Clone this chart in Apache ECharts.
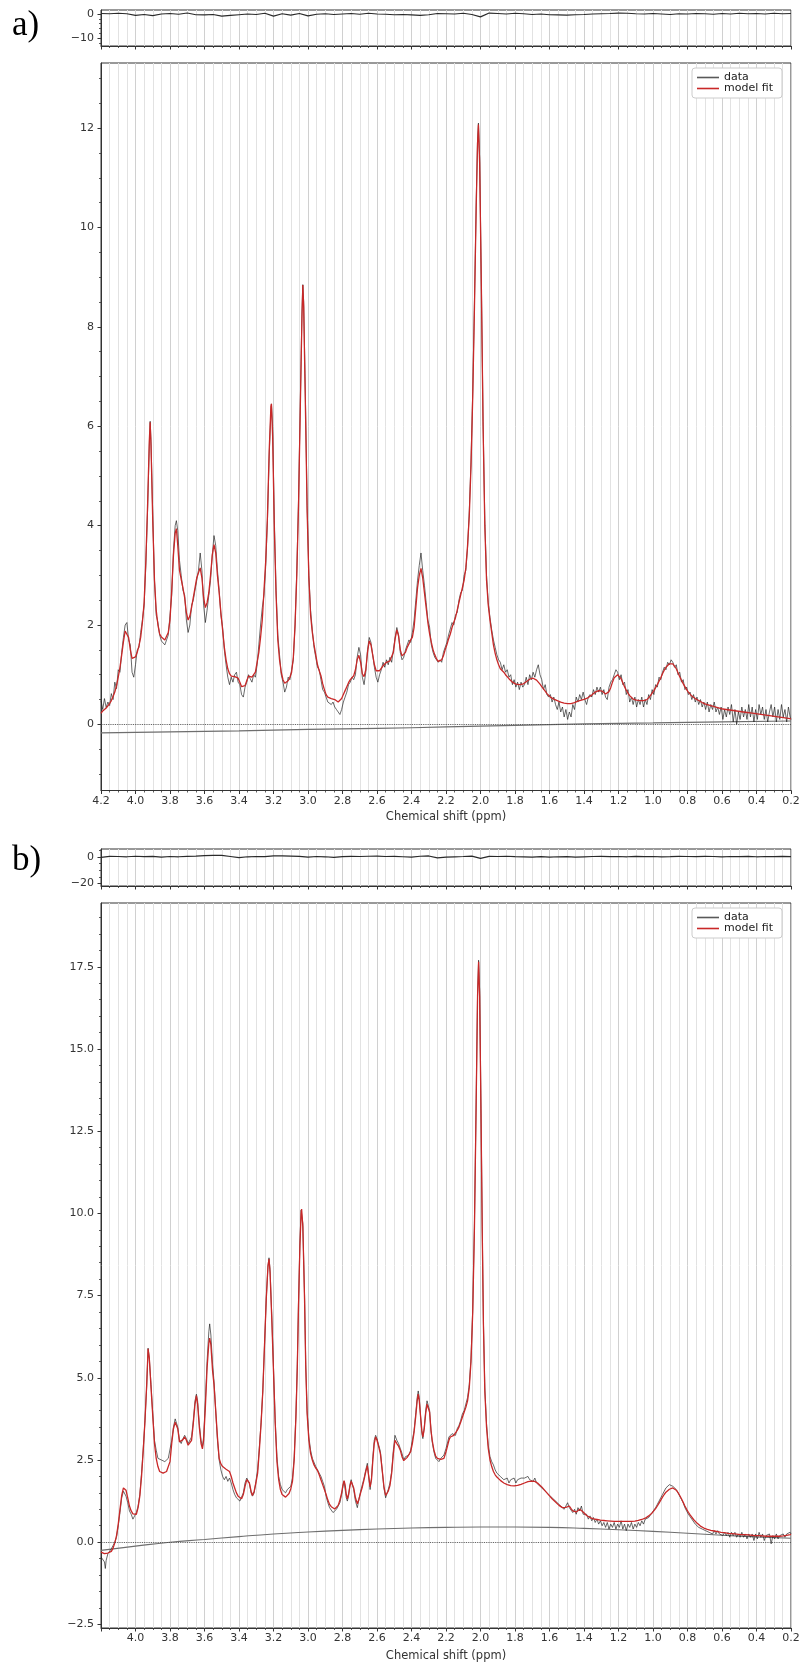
<!DOCTYPE html>
<html><head><meta charset="utf-8">
<script src="https://cdn.jsdelivr.net/npm/echarts@6/dist/echarts.min.js"></script>
<style>html,body{margin:0;padding:0;background:#fff}#c{width:803px;height:1667px}</style>
</head><body><div id="c"></div>
<script>
// ---------------- Panel a) ----------------
const ppmA = [
4.200,4.190,4.180,4.170,4.160,4.150,4.140,4.130,4.120,4.110,
4.100,4.090,4.080,4.070,4.060,4.050,4.040,4.030,4.020,4.010,
4.000,3.990,3.980,3.970,3.960,3.950,3.940,3.930,3.920,3.915,
3.910,3.900,3.890,3.880,3.870,3.860,3.850,3.840,3.830,3.820,
3.810,3.800,3.790,3.780,3.770,3.763,3.755,3.745,3.735,3.725,
3.715,3.705,3.695,3.685,3.675,3.665,3.655,3.645,3.635,3.625,
3.615,3.605,3.595,3.585,3.575,3.565,3.555,3.545,3.535,3.525,
3.515,3.505,3.495,3.485,3.475,3.465,3.455,3.445,3.435,3.425,
3.415,3.405,3.395,3.385,3.375,3.365,3.355,3.345,3.335,3.325,
3.315,3.305,3.295,3.285,3.275,3.265,3.255,3.245,3.235,3.225,
3.215,3.212,3.205,3.195,3.185,3.175,3.165,3.155,3.145,3.135,
3.125,3.115,3.105,3.095,3.085,3.075,3.065,3.055,3.045,3.035,
3.030,3.025,3.015,3.005,2.995,2.985,2.975,2.965,2.955,2.945,
2.935,2.925,2.915,2.905,2.895,2.885,2.875,2.865,2.855,2.845,
2.835,2.825,2.815,2.805,2.795,2.785,2.775,2.765,2.755,2.745,
2.735,2.725,2.715,2.705,2.695,2.685,2.675,2.665,2.655,2.645,
2.635,2.625,2.615,2.605,2.595,2.585,2.575,2.565,2.555,2.545,
2.535,2.525,2.515,2.505,2.495,2.485,2.475,2.465,2.455,2.445,
2.435,2.425,2.415,2.405,2.395,2.385,2.375,2.365,2.355,2.345,
2.335,2.325,2.315,2.305,2.295,2.285,2.275,2.265,2.255,2.245,
2.235,2.225,2.215,2.205,2.195,2.185,2.175,2.165,2.155,2.145,
2.135,2.125,2.115,2.105,2.095,2.085,2.075,2.065,2.055,2.045,
2.035,2.025,2.017,2.012,2.005,1.995,1.985,1.975,1.965,1.955,
1.945,1.935,1.925,1.915,1.905,1.895,1.885,1.875,1.865,1.855,
1.845,1.835,1.825,1.815,1.805,1.795,1.785,1.775,1.765,1.755,
1.745,1.735,1.725,1.715,1.705,1.695,1.685,1.675,1.665,1.655,
1.645,1.635,1.625,1.615,1.605,1.595,1.585,1.575,1.565,1.555,
1.545,1.535,1.525,1.515,1.505,1.495,1.485,1.475,1.465,1.455,
1.445,1.435,1.425,1.415,1.405,1.395,1.385,1.375,1.365,1.355,
1.345,1.335,1.325,1.315,1.305,1.295,1.285,1.275,1.265,1.255,
1.245,1.235,1.225,1.215,1.205,1.195,1.185,1.175,1.165,1.155,
1.145,1.135,1.125,1.115,1.105,1.095,1.085,1.075,1.065,1.055,
1.045,1.035,1.025,1.015,1.005,0.995,0.985,0.975,0.965,0.955,
0.945,0.935,0.925,0.915,0.905,0.895,0.885,0.875,0.865,0.855,
0.845,0.835,0.825,0.815,0.805,0.795,0.785,0.775,0.765,0.755,
0.745,0.735,0.725,0.715,0.705,0.695,0.685,0.675,0.665,0.655,
0.645,0.635,0.625,0.615,0.605,0.595,0.585,0.575,0.565,0.555,
0.545,0.535,0.525,0.515,0.505,0.495,0.485,0.475,0.465,0.455,
0.445,0.435,0.425,0.415,0.405,0.395,0.385,0.375,0.365,0.355,
0.345,0.335,0.325,0.315,0.305,0.295,0.285,0.275,0.265,0.255,
0.245,0.235,0.225,0.215,0.205,0.200];
const fitA = [
0.22,0.27,0.30,0.33,0.37,0.42,0.48,0.56,0.65,0.78,
0.95,1.15,1.40,1.66,1.88,1.92,1.75,1.50,1.33,1.29,
1.36,1.45,1.58,1.75,2.05,2.45,3.30,4.40,5.70,6.08,
5.60,4.10,2.90,2.30,2.00,1.82,1.76,1.72,1.70,1.72,
1.85,2.10,2.70,3.40,3.85,3.94,3.60,3.10,2.92,2.75,
2.55,2.25,2.10,2.18,2.35,2.55,2.75,2.95,3.05,3.15,
2.95,2.55,2.35,2.45,2.65,3.00,3.40,3.62,3.45,3.00,
2.65,2.25,1.90,1.55,1.30,1.12,1.02,0.97,0.95,0.96,
0.98,0.93,0.85,0.76,0.72,0.78,0.88,0.97,0.98,0.95,
0.93,1.05,1.25,1.45,1.75,2.10,2.70,3.30,4.20,5.50,
6.40,6.45,5.80,3.90,2.60,1.70,1.30,1.05,0.90,0.83,
0.82,0.88,0.95,1.05,1.35,2.00,3.00,4.40,6.30,8.20,
8.84,8.40,6.40,4.30,2.95,2.20,1.85,1.60,1.40,1.20,
1.08,0.98,0.82,0.70,0.60,0.55,0.52,0.52,0.52,0.50,
0.48,0.45,0.45,0.52,0.60,0.68,0.76,0.84,0.90,0.94,
0.98,1.10,1.30,1.39,1.25,1.02,0.96,1.10,1.45,1.68,
1.60,1.40,1.20,1.08,1.04,1.08,1.12,1.18,1.22,1.25,
1.26,1.28,1.32,1.45,1.72,1.90,1.78,1.50,1.38,1.38,
1.45,1.55,1.62,1.70,1.75,1.95,2.35,2.75,3.00,3.14,
2.95,2.65,2.35,2.05,1.82,1.65,1.50,1.40,1.32,1.27,
1.26,1.30,1.38,1.50,1.60,1.72,1.82,1.95,2.05,2.15,
2.30,2.45,2.60,2.75,2.90,3.15,3.60,4.20,5.20,6.60,
8.40,10.40,11.70,12.07,11.30,8.80,6.00,4.00,2.90,2.40,
2.10,1.85,1.60,1.43,1.30,1.20,1.12,1.08,1.05,1.00,
0.96,0.92,0.88,0.85,0.83,0.81,0.80,0.80,0.80,0.81,
0.83,0.86,0.88,0.91,0.92,0.93,0.91,0.89,0.85,0.81,
0.76,0.72,0.67,0.62,0.58,0.55,0.53,0.51,0.49,0.48,
0.46,0.45,0.44,0.43,0.42,0.42,0.42,0.42,0.43,0.44,
0.45,0.47,0.48,0.49,0.50,0.51,0.52,0.54,0.56,0.59,
0.62,0.65,0.67,0.68,0.68,0.67,0.64,0.61,0.60,0.66,
0.74,0.85,0.94,0.98,1.00,0.98,0.92,0.84,0.76,0.69,
0.63,0.58,0.54,0.51,0.49,0.49,0.48,0.48,0.48,0.48,
0.49,0.50,0.54,0.58,0.63,0.68,0.74,0.80,0.87,0.94,
1.02,1.09,1.15,1.19,1.22,1.23,1.22,1.18,1.12,1.04,
0.96,0.89,0.82,0.76,0.70,0.65,0.61,0.57,0.55,0.52,
0.50,0.48,0.46,0.44,0.43,0.41,0.40,0.39,0.38,0.37,
0.36,0.35,0.34,0.33,0.32,0.31,0.31,0.30,0.30,0.29,
0.29,0.28,0.28,0.27,0.27,0.26,0.26,0.25,0.25,0.24,
0.24,0.23,0.23,0.22,0.22,0.21,0.21,0.20,0.20,0.19,
0.19,0.18,0.18,0.17,0.17,0.16,0.16,0.15,0.15,0.14,
0.14,0.13,0.13,0.12,0.12,0.11];
const dataA = [
0.48,0.30,0.52,0.34,0.45,0.38,0.62,0.50,0.85,0.72,
1.10,1.05,1.45,1.75,2.00,2.05,1.70,1.60,1.05,0.95,
1.20,1.50,1.55,1.85,2.10,2.40,3.20,4.30,5.60,6.10,
5.70,4.20,2.90,2.20,2.05,1.80,1.68,1.65,1.60,1.70,
1.80,2.20,2.60,3.50,4.00,4.10,3.90,3.30,3.00,2.70,
2.60,2.10,1.85,2.00,2.40,2.50,2.70,2.90,3.10,3.45,
3.10,2.40,2.05,2.30,2.60,2.90,3.40,3.80,3.60,3.10,
2.70,2.20,1.95,1.50,1.20,0.95,0.80,0.95,0.85,1.00,
1.05,0.85,0.80,0.60,0.55,0.75,0.85,1.00,0.92,0.85,
1.00,0.95,1.20,1.60,2.00,2.35,2.60,3.20,4.10,5.40,
6.30,6.45,6.00,4.10,2.70,1.80,1.40,1.00,0.85,0.65,
0.75,0.95,0.90,1.10,1.30,2.00,3.10,4.50,6.40,8.30,
8.85,8.50,6.60,4.40,3.00,2.30,1.90,1.55,1.35,1.15,
1.10,0.90,0.70,0.65,0.55,0.45,0.48,0.40,0.45,0.35,
0.30,0.25,0.20,0.30,0.45,0.55,0.65,0.80,0.85,0.95,
0.90,1.00,1.35,1.55,1.40,0.95,0.80,1.05,1.50,1.75,
1.65,1.40,1.15,0.95,0.85,1.00,1.10,1.25,1.15,1.30,
1.20,1.35,1.25,1.50,1.75,1.95,1.80,1.45,1.30,1.35,
1.50,1.50,1.70,1.65,1.85,2.10,2.50,2.90,3.20,3.45,
3.10,2.80,2.45,2.10,1.95,1.60,1.45,1.35,1.30,1.25,
1.30,1.25,1.45,1.45,1.65,1.80,1.78,2.05,2.00,2.20,
2.25,2.50,2.65,2.70,3.00,3.10,3.55,4.30,5.30,6.70,
8.50,10.50,11.80,12.10,11.40,8.90,6.10,4.10,3.00,2.45,
2.15,1.90,1.70,1.55,1.40,1.30,1.25,1.10,1.20,1.05,
1.10,0.95,1.00,0.80,0.90,0.75,0.85,0.70,0.85,0.75,
0.80,0.95,0.80,1.00,0.90,1.05,0.95,1.10,1.20,1.00,
0.90,0.70,0.80,0.60,0.55,0.60,0.45,0.55,0.40,0.30,
0.45,0.25,0.35,0.15,0.30,0.10,0.25,0.15,0.40,0.30,
0.55,0.45,0.60,0.50,0.65,0.50,0.40,0.55,0.60,0.55,
0.70,0.60,0.75,0.65,0.75,0.60,0.70,0.55,0.50,0.75,
0.85,0.90,1.00,1.10,1.05,0.90,1.00,0.80,0.85,0.60,
0.70,0.45,0.55,0.40,0.55,0.35,0.50,0.40,0.55,0.35,
0.50,0.40,0.60,0.50,0.70,0.60,0.80,0.75,0.95,0.90,
1.05,1.15,1.10,1.25,1.20,1.30,1.25,1.15,1.20,1.00,
1.05,0.85,0.90,0.70,0.75,0.60,0.65,0.50,0.60,0.45,
0.55,0.40,0.50,0.35,0.45,0.30,0.45,0.25,0.40,0.30,
0.45,0.25,0.35,0.20,0.35,0.10,0.30,0.15,0.35,0.20,
0.40,0.05,0.30,0.00,0.25,0.10,0.35,0.15,0.30,0.10,
0.40,0.15,0.35,0.05,0.30,0.10,0.40,0.20,0.35,0.10,
0.30,0.05,0.25,0.40,0.15,0.35,0.05,0.30,0.10,0.40,
0.15,0.30,0.05,0.35,0.15,0.10];
const basePpmA = [4.2,3.8,3.4,3.0,2.6,2.2,1.8,1.4,1.0,0.6,0.2];
const baselineA = [-0.17,-0.15,-0.13,-0.10,-0.08,-0.05,-0.02,0.01,0.03,0.05,0.07];
const residA = [
0.2,0.1,0.3,0.1,-0.6,-0.2,-0.7,0.0,0.2,-0.1,
0.4,-0.3,-0.4,-0.2,-0.9,-0.6,-0.3,0.0,-0.2,0.3,
-0.9,0.1,-0.5,0.2,-0.8,-0.1,0.1,-0.2,0.0,0.2,
-0.1,0.3,0.0,-0.1,-0.3,-0.2,-0.4,-0.6,-0.3,0.2,
0.1,0.0,0.3,-0.2,-1.2,0.4,0.2,0.0,0.3,0.1,
-0.2,0.0,-0.3,-0.4,-0.5,-0.3,-0.2,0.0,0.1,0.2,
0.4,0.3,0.1,0.0,0.2,0.0,-0.2,0.1,0.0,0.2,
0.1,-0.1,0.2,0.0,0.3,0.1,0.2,0.0,0.3,0.1,
0.2];

// ---------------- Panel b) ----------------
const ppmB = [
4.200,4.190,4.180,4.175,4.170,4.160,4.150,4.140,4.130,4.120,
4.110,4.100,4.090,4.080,4.070,4.062,4.055,4.045,4.035,4.025,
4.015,4.005,3.995,3.985,3.975,3.965,3.955,3.945,3.935,3.927,
3.920,3.910,3.900,3.890,3.880,3.870,3.860,3.850,3.840,3.830,
3.820,3.810,3.800,3.790,3.780,3.770,3.765,3.755,3.745,3.735,
3.725,3.715,3.705,3.695,3.685,3.675,3.665,3.655,3.647,3.640,
3.630,3.620,3.612,3.605,3.595,3.585,3.575,3.570,3.563,3.553,
3.545,3.535,3.525,3.515,3.505,3.495,3.485,3.475,3.465,3.455,
3.445,3.435,3.425,3.415,3.405,3.395,3.385,3.375,3.365,3.355,
3.350,3.340,3.330,3.322,3.312,3.302,3.292,3.282,3.272,3.262,
3.252,3.242,3.232,3.226,3.220,3.210,3.200,3.190,3.180,3.170,
3.160,3.150,3.140,3.130,3.120,3.110,3.100,3.090,3.080,3.070,
3.062,3.055,3.047,3.040,3.037,3.030,3.020,3.013,3.005,2.995,
2.985,2.975,2.965,2.955,2.945,2.935,2.925,2.915,2.905,2.895,
2.885,2.875,2.865,2.855,2.845,2.835,2.825,2.815,2.805,2.797,
2.791,2.785,2.778,2.772,2.765,2.757,2.750,2.743,2.735,2.725,
2.714,2.705,2.695,2.685,2.675,2.665,2.656,2.648,2.640,2.632,
2.624,2.616,2.608,2.600,2.590,2.580,2.570,2.560,2.550,2.546,
2.535,2.525,2.515,2.505,2.496,2.485,2.475,2.465,2.455,2.445,
2.435,2.425,2.415,2.405,2.395,2.385,2.375,2.367,2.361,2.355,
2.347,2.340,2.334,2.326,2.318,2.310,2.303,2.295,2.287,2.280,
2.270,2.260,2.250,2.241,2.230,2.220,2.212,2.200,2.190,2.183,
2.175,2.165,2.155,2.145,2.135,2.125,2.115,2.105,2.095,2.085,
2.075,2.065,2.055,2.045,2.035,2.025,2.017,2.011,2.005,1.997,
1.990,1.983,1.975,1.965,1.955,1.945,1.935,1.925,1.915,1.905,
1.895,1.885,1.875,1.865,1.855,1.845,1.835,1.825,1.815,1.805,
1.795,1.785,1.775,1.765,1.755,1.745,1.735,1.725,1.715,1.705,
1.695,1.685,1.675,1.665,1.655,1.645,1.635,1.625,1.615,1.605,
1.595,1.585,1.575,1.565,1.555,1.545,1.535,1.525,1.515,1.505,
1.495,1.485,1.475,1.465,1.455,1.445,1.435,1.425,1.415,1.405,
1.395,1.385,1.375,1.365,1.355,1.345,1.335,1.325,1.315,1.305,
1.295,1.285,1.275,1.265,1.255,1.245,1.235,1.225,1.215,1.205,
1.195,1.185,1.175,1.165,1.155,1.145,1.135,1.125,1.115,1.105,
1.095,1.085,1.075,1.065,1.055,1.045,1.035,1.025,1.015,1.005,
0.995,0.985,0.975,0.965,0.955,0.945,0.935,0.925,0.915,0.905,
0.895,0.885,0.875,0.865,0.855,0.845,0.835,0.825,0.815,0.805,
0.795,0.785,0.775,0.765,0.755,0.745,0.735,0.725,0.715,0.705,
0.695,0.685,0.675,0.665,0.655,0.645,0.635,0.625,0.615,0.605,
0.595,0.585,0.575,0.565,0.555,0.545,0.535,0.525,0.515,0.505,
0.495,0.485,0.475,0.465,0.455,0.445,0.435,0.425,0.415,0.405,
0.395,0.385,0.375,0.365,0.355,0.345,0.335,0.325,0.315,0.305,
0.295,0.285,0.275,0.265,0.255,0.245,0.235,0.225,0.215,0.205,
0.200];
const fitB = [
-0.30,-0.33,-0.35,-0.35,-0.35,-0.33,-0.31,-0.28,-0.18,-0.02,
0.20,0.55,1.00,1.42,1.65,1.69,1.58,1.35,1.10,0.95,
0.86,0.81,0.85,1.05,1.40,2.00,2.80,3.70,4.80,5.88,
5.60,4.70,3.85,3.00,2.55,2.30,2.15,2.10,2.10,2.12,
2.15,2.20,2.45,3.00,3.45,3.65,3.66,3.45,3.05,3.00,
3.12,3.20,3.10,2.95,2.90,3.10,3.60,4.20,4.46,4.20,
3.50,3.00,2.84,3.10,4.10,5.30,6.05,6.21,6.00,5.20,
4.80,4.00,3.20,2.55,2.38,2.30,2.25,2.22,2.20,2.15,
2.00,1.80,1.65,1.50,1.40,1.34,1.32,1.45,1.70,1.90,
1.93,1.80,1.55,1.42,1.55,1.80,2.10,2.80,3.60,4.60,
6.00,7.40,8.40,8.61,8.20,6.80,5.20,3.60,2.45,1.90,
1.60,1.45,1.39,1.37,1.40,1.48,1.62,1.85,2.50,3.80,
5.32,7.20,9.00,10.00,10.13,9.60,7.40,5.32,3.90,3.10,
2.70,2.50,2.35,2.25,2.18,2.05,1.90,1.75,1.60,1.45,
1.28,1.15,1.08,1.04,1.01,1.03,1.12,1.28,1.50,1.75,
1.87,1.75,1.45,1.32,1.45,1.70,1.85,1.87,1.65,1.35,
1.17,1.30,1.50,1.68,1.90,2.15,2.33,2.00,1.68,1.90,
2.50,3.00,3.20,3.10,2.90,2.68,2.20,1.70,1.42,1.37,
1.55,1.72,2.10,2.70,3.10,3.00,2.92,2.80,2.60,2.48,
2.52,2.58,2.60,2.75,3.00,3.35,3.85,4.30,4.50,4.30,
3.80,3.40,3.20,3.45,3.90,4.20,4.25,3.95,3.40,3.10,
2.80,2.62,2.55,2.53,2.52,2.53,2.55,2.75,2.95,3.10,
3.20,3.25,3.25,3.30,3.40,3.50,3.65,3.80,3.95,4.10,
4.30,4.70,5.50,7.00,9.60,13.40,16.60,17.65,16.60,13.00,
9.50,6.60,4.60,3.50,2.85,2.50,2.30,2.15,2.05,1.98,
1.93,1.88,1.83,1.80,1.77,1.75,1.73,1.72,1.71,1.71,
1.72,1.73,1.74,1.76,1.78,1.80,1.82,1.84,1.85,1.86,
1.86,1.85,1.82,1.78,1.73,1.68,1.62,1.56,1.50,1.44,
1.38,1.32,1.27,1.22,1.17,1.12,1.08,1.05,1.04,1.06,
1.10,1.10,1.02,0.95,0.92,0.92,0.96,1.00,0.98,0.92,
0.86,0.81,0.78,0.75,0.73,0.71,0.70,0.69,0.68,0.67,
0.66,0.66,0.65,0.65,0.64,0.64,0.64,0.63,0.63,0.63,
0.63,0.63,0.63,0.63,0.63,0.63,0.63,0.63,0.64,0.64,
0.65,0.66,0.67,0.69,0.71,0.73,0.76,0.80,0.84,0.89,
0.95,1.02,1.10,1.19,1.28,1.37,1.45,1.52,1.57,1.61,
1.64,1.65,1.63,1.58,1.51,1.42,1.32,1.21,1.10,1.00,
0.91,0.83,0.76,0.69,0.63,0.58,0.53,0.49,0.46,0.43,
0.41,0.39,0.37,0.36,0.35,0.34,0.33,0.32,0.31,0.30,
0.29,0.29,0.28,0.27,0.27,0.26,0.26,0.25,0.25,0.24,
0.24,0.23,0.23,0.23,0.22,0.22,0.21,0.21,0.21,0.20,
0.20,0.20,0.19,0.19,0.19,0.18,0.18,0.18,0.18,0.18,
0.18,0.18,0.18,0.18,0.19,0.19,0.20,0.21,0.22,0.23,
0.24];
const dataB = [
-0.45,-0.40,-0.60,-0.80,-0.55,-0.35,-0.40,-0.20,-0.10,0.00,
0.15,0.50,0.90,1.35,1.55,1.60,1.40,1.20,0.95,0.85,
0.70,0.75,0.90,1.10,1.45,2.10,2.85,3.70,4.75,5.90,
5.60,4.80,3.90,3.10,2.80,2.55,2.60,2.50,2.55,2.45,
2.50,2.55,2.60,3.10,3.50,3.75,3.75,3.50,3.10,3.00,
3.15,3.25,3.15,3.00,3.00,3.20,3.70,4.30,4.50,4.30,
3.60,3.10,2.90,3.20,4.30,5.50,6.40,6.64,6.30,5.40,
4.90,4.00,3.10,2.50,2.20,2.00,1.90,2.00,1.85,1.95,
1.80,1.60,1.45,1.35,1.30,1.25,1.30,1.50,1.80,1.95,
1.95,1.80,1.50,1.40,1.50,1.85,2.20,2.90,3.65,4.60,
6.00,7.40,8.40,8.65,8.30,6.90,5.30,3.70,2.60,2.00,
1.75,1.60,1.55,1.50,1.60,1.55,1.70,1.95,2.60,3.90,
5.40,7.30,9.10,10.10,10.15,9.70,7.50,5.40,4.00,3.20,
2.80,2.55,2.50,2.30,2.30,2.10,2.00,1.85,1.70,1.40,
1.20,1.05,1.00,0.90,0.85,1.00,1.05,1.20,1.45,1.70,
1.85,1.80,1.35,1.25,1.40,1.75,1.90,1.85,1.60,1.25,
1.05,1.30,1.55,1.75,1.95,2.20,2.40,2.00,1.60,1.95,
2.60,3.10,3.25,3.15,2.95,2.75,2.20,1.65,1.35,1.30,
1.60,1.80,2.15,2.80,3.25,3.10,3.00,2.85,2.70,2.50,
2.60,2.55,2.65,2.80,3.10,3.40,3.95,4.40,4.60,4.40,
3.80,3.30,3.15,3.50,4.00,4.30,4.30,4.00,3.40,3.05,
2.75,2.55,2.50,2.45,2.55,2.60,2.65,2.85,3.05,3.20,
3.25,3.30,3.35,3.25,3.45,3.55,3.70,3.90,4.00,4.20,
4.40,4.80,5.60,7.10,9.70,13.50,16.70,17.70,16.80,13.20,
9.60,6.70,4.70,3.60,2.95,2.60,2.45,2.35,2.20,2.10,
2.05,2.00,1.95,1.90,1.85,1.95,1.80,1.90,1.85,1.95,
1.80,1.90,1.85,1.95,1.90,1.95,1.90,2.00,1.90,1.95,
1.85,1.95,1.80,1.85,1.70,1.75,1.60,1.65,1.50,1.55,
1.40,1.45,1.30,1.35,1.20,1.25,1.10,1.15,1.00,1.10,
1.20,1.05,1.10,0.90,1.00,0.85,1.05,0.95,1.10,0.85,
0.80,0.85,0.70,0.80,0.65,0.75,0.60,0.70,0.55,0.65,
0.50,0.60,0.45,0.60,0.40,0.55,0.45,0.60,0.40,0.55,
0.45,0.65,0.40,0.55,0.35,0.55,0.45,0.60,0.40,0.55,
0.45,0.60,0.50,0.65,0.55,0.70,0.65,0.75,0.80,0.90,
0.95,1.05,1.15,1.25,1.35,1.45,1.55,1.65,1.70,1.75,
1.75,1.70,1.65,1.60,1.50,1.45,1.30,1.20,1.05,0.95,
0.85,0.80,0.70,0.65,0.55,0.55,0.45,0.45,0.40,0.45,
0.35,0.40,0.30,0.35,0.25,0.35,0.25,0.35,0.25,0.30,
0.20,0.30,0.20,0.30,0.15,0.30,0.20,0.30,0.15,0.25,
0.15,0.30,0.15,0.25,0.10,0.25,0.15,0.25,0.05,0.25,
0.10,0.30,0.15,0.25,0.05,0.20,0.15,0.25,-0.05,0.20,
0.10,0.25,0.10,0.20,0.15,0.25,0.15,0.25,0.20,0.30,
0.25];
const basePpmB = [4.2,4.0,3.8,3.6,3.4,3.2,3.0,2.8,2.6,2.4,2.2,2.0,1.8,1.6,1.4,1.2,1.0,0.8,0.6,0.4,0.2];
const baselineB = [-0.25,-0.12,0.0,0.08,0.17,0.25,0.31,0.36,0.40,0.43,0.45,0.46,0.46,0.45,0.42,0.38,0.33,0.27,0.21,0.16,0.12];
const residB = [
-0.5,0.3,0.2,0.0,0.4,0.1,0.3,-0.3,0.2,0.0,
0.3,0.5,0.9,1.1,1.0,0.2,-0.6,0.0,0.2,0.1,
0.6,0.7,0.5,0.3,-0.3,0.2,0.0,-0.4,0.1,0.3,
0.2,0.4,0.5,0.2,0.3,0.0,-0.3,0.4,0.6,-0.8,
-0.2,0.0,0.2,0.5,-1.2,0.3,0.2,0.4,0.1,0.0,
-0.2,0.1,-0.3,0.0,0.1,-0.2,0.0,0.2,0.3,0.1,
0.2,0.0,0.3,0.1,0.2,0.0,0.1,0.3,0.2,0.1,
0.3,0.2,0.0,0.2,0.1,0.3,0.0,0.2,0.1,0.3,
0.1];

// tick labels
const yTicksA = [0,2,4,6,8,10,12];
const yTicksB = [-2.5,0,2.5,5,7.5,10,12.5,15,17.5];
const resTicksA = [-10,0];
const resTicksB = [-20,0];
const legendNames = ['data','model fit'];
const xTitle = 'Chemical shift (ppm)';
const panelLabels = ['a)','b)'];

// ---------------- chart ----------------
const FONT = '"DejaVu Sans", sans-serif';
const AX = '#333';
const TXT = '#333';
const RED = '#c92828';
const DATA_COL = 'rgba(25,25,25,0.72)';

const resPpm = residA.map((_, i) => +(4.2 - 0.05 * i).toFixed(2));
const zip = (xs, ys) => xs.map((x, i) => [x, ys[i]]);
const minus = s => s.replace('-', '\u2212');

function minorList(min, max, step, majorStep) {
  const out = [];
  for (let k = Math.ceil(min / step - 1e-9); k * step <= max + 1e-9; k++) {
    const v = +(k * step).toFixed(4);
    const r = v / majorStep;
    if (Math.abs(r - Math.round(r)) > 1e-6) out.push(v);
  }
  return out;
}

function yPair(grid, min, max, majors, minorStep, majorStep, fmt) {
  return [
    { type: 'value', gridIndex: grid, position: 'left', min, max,
      axisLine: { show: true, onZero: false, lineStyle: { color: AX, width: 1 } },
      axisTick: { show: true, customValues: majors, length: 3.5, lineStyle: { color: AX, width: 1 } },
      axisLabel: { show: true, customValues: majors, formatter: fmt, fontSize: 11, color: TXT, margin: 7, fontFamily: FONT },
      splitLine: { show: false }, minorTick: { show: false }, minorSplitLine: { show: false } },
    { type: 'value', gridIndex: grid, position: 'left', offset: 0, min, max,
      axisLine: { show: false, onZero: false },
      axisTick: { show: true, customValues: minorList(min, max, minorStep, majorStep), length: 2, lineStyle: { color: AX, width: 0.8 } },
      axisLabel: { show: false }, splitLine: { show: false } }
  ];
}

function xAx(grid, showLabels, showMaxLabel, name, nameGap) {
  return { type: 'value', gridIndex: grid, inverse: true, min: 0.2, max: 4.2, interval: 0.2,
    axisLine: { show: true, onZero: false, lineStyle: { color: AX, width: 1 } },
    axisTick: { show: true, length: 3.5, lineStyle: { color: AX, width: 1 } },
    minorTick: { show: true, splitNumber: 4, length: 2, lineStyle: { color: AX, width: 0.8 } },
    splitLine: { show: true, lineStyle: { color: '#d0d0d0', width: 1 } },
    minorSplitLine: { show: true, lineStyle: { color: '#e2e2e2', width: 1 } },
    axisLabel: { show: showLabels, formatter: v => v.toFixed(1), fontSize: 11, color: TXT, margin: 5,
      fontFamily: FONT, showMinLabel: true, showMaxLabel: showMaxLabel },
    name: name || '', nameLocation: 'middle', nameGap: nameGap || 20,
    nameTextStyle: { fontSize: 11.5, color: TXT, fontFamily: FONT }
  };
}

const gridBase = { left: 101, width: 690, show: true, borderColor: AX, borderWidth: 1,
  backgroundColor: 'transparent', containLabel: false, outerBoundsMode: 'none' };

const intFmt = v => minus(String(Math.round(v)));
const decFmt = v => minus(v.toFixed(1));

const legendBase = { orient: 'vertical', data: legendNames, selectedMode: false,
  icon: 'rect', itemWidth: 22, itemHeight: 1.6, itemGap: 0, padding: [4, 9, 4, 5],
  borderColor: '#cccccc', borderWidth: 1, borderRadius: 3, backgroundColor: '#ffffff',
  textStyle: { fontSize: 11, color: '#222', fontFamily: FONT, lineHeight: 11 } };

const markZero = { silent: true, symbol: ['none', 'none'], label: { show: false },
  lineStyle: { color: '#444', type: 'dotted', width: 0.9 }, data: [{ yAxis: 0 }] };

const option = {
  animation: false,
  backgroundColor: '#ffffff',
  grid: [
    Object.assign({}, gridBase, { top: 10, height: 36 }),
    Object.assign({}, gridBase, { top: 63, height: 727.5 }),
    Object.assign({}, gridBase, { top: 849, height: 37 }),
    Object.assign({}, gridBase, { top: 903, height: 725 })
  ],
  xAxis: [
    xAx(0, false, true),
    xAx(1, true, true, xTitle, 21),
    xAx(2, false, false),
    xAx(3, true, false, xTitle, 22)
  ],
  yAxis: [].concat(
    yPair(0, -13.2, 1.65, resTicksA, 2, 10, intFmt),
    yPair(1, -1.33, 13.31, yTicksA, 0.5, 2, intFmt),
    yPair(2, -21.8, 5.8, resTicksB, 5, 20, intFmt),
    yPair(3, -2.61, 19.44, yTicksB, 0.5, 2.5, decFmt)
  ),
  legend: [
    Object.assign({}, legendBase, { left: 692, top: 68 }),
    Object.assign({}, legendBase, { left: 692, top: 908 })
  ],
  graphic: [
    { type: 'text', left: 12, top: 8, style: { text: panelLabels[0], font: '35px "Liberation Serif", serif', fill: '#000' } },
    { type: 'text', left: 12, top: 843, style: { text: panelLabels[1], font: '35px "Liberation Serif", serif', fill: '#000' } }
  ],
  series: [
    { name: 'residual a', type: 'line', xAxisIndex: 0, yAxisIndex: 0, symbol: 'none',
      data: zip(resPpm, residA), lineStyle: { color: '#2a2a2a', width: 1.2 } },
    { name: 'baseline a', type: 'line', xAxisIndex: 1, yAxisIndex: 2, symbol: 'none', smooth: true,
      data: zip(basePpmA, baselineA), lineStyle: { color: '#6e6e6e', width: 1.1 }, markLine: markZero },
    { name: 'data', type: 'line', xAxisIndex: 1, yAxisIndex: 2, symbol: 'none', color: DATA_COL,
      data: zip(ppmA, dataA), lineStyle: { color: DATA_COL, width: 0.9 } },
    { name: 'model fit', type: 'line', xAxisIndex: 1, yAxisIndex: 2, symbol: 'none', color: RED,
      data: zip(ppmA, fitA), lineStyle: { color: RED, width: 1.3 } },
    { name: 'residual b', type: 'line', xAxisIndex: 2, yAxisIndex: 4, symbol: 'none',
      data: zip(resPpm, residB), lineStyle: { color: '#2a2a2a', width: 1.2 } },
    { name: 'baseline b', type: 'line', xAxisIndex: 3, yAxisIndex: 6, symbol: 'none', smooth: true,
      data: zip(basePpmB, baselineB), lineStyle: { color: '#6e6e6e', width: 1.1 }, markLine: markZero },
    { name: 'data', type: 'line', xAxisIndex: 3, yAxisIndex: 6, symbol: 'none', color: DATA_COL,
      data: zip(ppmB, dataB), lineStyle: { color: DATA_COL, width: 0.9 } },
    { name: 'model fit', type: 'line', xAxisIndex: 3, yAxisIndex: 6, symbol: 'none', color: RED,
      data: zip(ppmB, fitB), lineStyle: { color: RED, width: 1.3 } }
  ]
};

const chart = echarts.init(document.getElementById('c'), null, { renderer: 'canvas', width: 803, height: 1667 });
chart.setOption(option);
</script></body></html>
